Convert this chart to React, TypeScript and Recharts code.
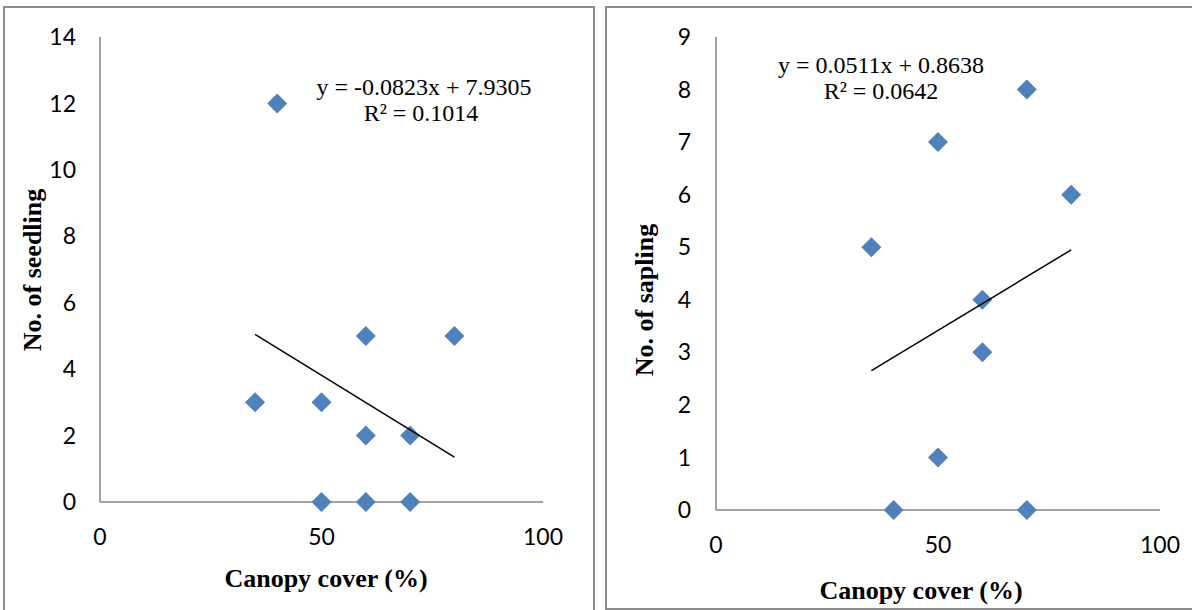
import { ScatterChart, Scatter, XAxis, YAxis } from 'recharts'

// left panel: seedlings vs canopy cover
const seedlingCanopy = [35, 40, 50, 50, 60, 60, 60, 70, 70, 80]
const seedlingCount = [3, 12, 3, 0, 5, 2, 0, 2, 0, 5]
const seedlingTrendX = [35, 80]
const seedlingTrendY = [5.05, 1.35]
const seedlingYTicks = [0, 2, 4, 6, 8, 10, 12, 14]

// right panel: saplings vs canopy cover
const saplingCanopy = [35, 40, 50, 50, 60, 60, 70, 70, 80]
const saplingCount = [5, 0, 7, 1, 4, 3, 8, 0, 6]
const saplingTrendX = [35, 80]
const saplingTrendY = [2.65, 4.95]
const saplingYTicks = [0, 1, 2, 3, 4, 5, 6, 7, 8, 9]

const xTicks = [0, 50, 100]

const toPoints = (xs: number[], ys: number[]) => xs.map((x, i) => ({ x, y: ys[i] }))

const AXIS = '#868686'
const MARKER = '#4F81BD'
const tickStyle = { fontFamily: 'Lato, sans-serif', fontSize: 23, fill: '#000' }
const serif = '"Liberation Serif", "Times New Roman", serif'

function Diamond(props: any) {
  const cx = props.cx ?? props.x + props.width / 2
  const cy = props.cy ?? props.y + props.height / 2
  const r = 10
  return <polygon points={`${cx},${cy - r} ${cx + r},${cy} ${cx},${cy + r} ${cx - r},${cy}`} fill={MARKER} />
}

const NoShape = () => <g />

interface PanelProps {
  points: { x: number; y: number }[]
  trend: { x: number; y: number }[]
  yMax: number
  yTicks: number[]
  width: number
  yAxisWidth: number
  marginRight: number
  marginBottom: number
  yTickMargin: number
}

function Panel({ points, trend, yMax, yTicks, width, yAxisWidth, marginRight, marginBottom, yTickMargin }: PanelProps) {
  return (
    <ScatterChart width={width} height={610} margin={{ top: 37, right: marginRight, bottom: marginBottom, left: 0 }}>
      <XAxis
        type="number"
        dataKey="x"
        domain={[0, 100]}
        ticks={xTicks}
        tickLine={false}
        tickSize={0}
        tickMargin={27}
        height={60}
        axisLine={{ stroke: AXIS, strokeWidth: 1.5 }}
        tick={tickStyle}
        interval={0}
      />
      <YAxis
        type="number"
        dataKey="y"
        domain={[0, yMax]}
        ticks={yTicks}
        tickLine={false}
        tickSize={0}
        tickMargin={yTickMargin}
        width={yAxisWidth}
        axisLine={{ stroke: AXIS, strokeWidth: 1.5 }}
        tick={tickStyle}
        interval={0}
      />
      <Scatter data={points} shape={<Diamond />} isAnimationActive={false} />
      <Scatter
        data={trend}
        line={{ stroke: '#000', strokeWidth: 1.5 }}
        shape={<NoShape />}
        isAnimationActive={false}
      />
    </ScatterChart>
  )
}

export default function App() {
  return (
    <div style={{ position: 'absolute', left: 0, top: 0, width: 1192, height: 610, overflow: 'hidden', background: '#fff' }}>
      <div style={{ position: 'absolute', left: 3, top: 6, width: 588, height: 640, border: '2px solid #8c8c8c' }} />
      <div style={{ position: 'absolute', left: 605, top: 6, width: 640, height: 600, border: '2px solid #8c8c8c' }} />

      <div style={{ position: 'absolute', left: 0, top: 0 }}>
        <Panel
          points={toPoints(seedlingCanopy, seedlingCount)}
          trend={toPoints(seedlingTrendX, seedlingTrendY)}
          yMax={14}
          yTicks={seedlingYTicks}
          width={600}
          yAxisWidth={100}
          marginRight={57}
          marginBottom={48}
          yTickMargin={24}
        />
      </div>
      <div style={{ position: 'absolute', left: 600, top: 0 }}>
        <Panel
          points={toPoints(saplingCanopy, saplingCount)}
          trend={toPoints(saplingTrendX, saplingTrendY)}
          yMax={9}
          yTicks={saplingYTicks}
          width={592}
          yAxisWidth={116}
          marginRight={32}
          marginBottom={40}
          yTickMargin={25}
        />
      </div>

      <svg width={1192} height={610} style={{ position: 'absolute', left: 0, top: 0, pointerEvents: 'none' }}>
        <g fontFamily={serif} fontSize={24} fill="#000" textAnchor="middle">
          <text x={424} y={95}>y = -0.0823x + 7.9305</text>
          <text x={421} y={121}>R² = 0.1014</text>
          <text x={881} y={73}>y = 0.0511x + 0.8638</text>
          <text x={881} y={99}>R² = 0.0642</text>
        </g>
        <g fontFamily={serif} fontSize={26} fontWeight="bold" fill="#000" textAnchor="middle">
          <text x={326} y={587}>Canopy cover (%)</text>
          <text x={921} y={599}>Canopy cover (%)</text>
          <text transform="translate(41,270) rotate(-90)">No. of seedling</text>
          <text transform="translate(653,300) rotate(-90)">No. of sapling</text>
        </g>
      </svg>
    </div>
  )
}
